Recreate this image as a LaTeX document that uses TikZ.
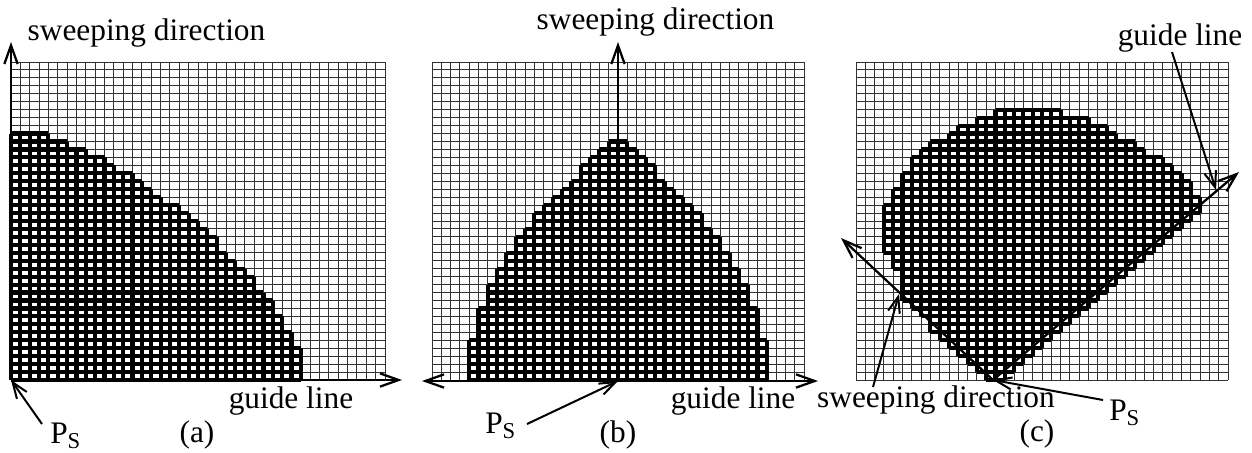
\documentclass[tikz,border=0pt]{standalone}
\usepackage{fontspec}
\setmainfont{Liberation Serif}
\usetikzlibrary{arrows.meta}
\tikzset{
  thingrid/.style={line width=0.7pt, black!80},
  cellgrid/.style={line width=3.1pt, black},
  axis/.style={line width=1.7pt, -{Straight Barb[length=14pt,width=10pt]}},
  axis2/.style={line width=1.7pt, {Straight Barb[length=14pt,width=10pt]}-{Straight Barb[length=14pt,width=10pt]}},
  ptr/.style={line width=1.5pt, -{Straight Barb[length=12pt,width=9pt]}},
  lbl/.style={font=\fontsize{23.5}{28}\selectfont, inner sep=0pt, anchor=base},
}
\newcommand\mySubPS{P\raisebox{-4pt}{\fontsize{17}{17}\selectfont S}}
\begin{document}
\begin{tikzpicture}[x=0.75pt,y=-0.75pt]
\useasboundingbox (0,0) rectangle (1252,453);
% ---------------- panel (a)
\begin{scope}[shift={(11,380)},x=7.0125pt,y=5.9625pt,step=1]
  \draw[thingrid] (0,0) grid (40,40);
  \foreach \i in {0,...,30}{
    \pgfmathtruncatemacro\hh{floor(31.5*(1-((\i+0.5)/31.5)^1.46)^(1/1.46)+0.5)}
    \ifnum\hh>0 \draw[cellgrid] (\i,0) grid (\i+1,\hh); \fi
  }
\end{scope}
\coordinate (a0) at (11,380);
\coordinate (aTop) at (11,42);
\coordinate (aRight) at (402,380);
\draw[axis] (a0) -- (aTop);
\draw[axis] (a0) -- (aRight);
\node[lbl] (sdA) at (146.5,41) {sweeping direction};
\node[lbl] (glA) at (291,408) {guide line};
\node[lbl] (capA) at (197,442) {(a)};
\node[lbl, anchor=base west] (psA) at (50,443) {\mySubPS};
\coordinate (psAtail) at (42,424);
\draw[ptr] (psAtail) -- (a0);
% ---------------- panel (b)
\begin{scope}[shift={(432,380)},x=6.975pt,y=5.9625pt,step=1]
  \draw[thingrid] (0,0) grid (40,40);
  \foreach \j in {0,...,29}{
    \pgfmathsetmacro\ww{16*(1-((\j+0.5)/30)^2)}
    \pgfmathtruncatemacro\lo{ceil(19.5-\ww)}
    \pgfmathtruncatemacro\hi{floor(19.5+\ww)}
    \draw[cellgrid] (\lo,\j) grid (\hi+1,\j+1);
  }
\end{scope}
\coordinate (b0) at (618,381);
\coordinate (bTop) at (618,42);
\coordinate (bLeft) at (422,381);
\coordinate (bRight) at (818,381);
\draw[axis2] (bLeft) -- (bRight);
\draw[axis] (b0) -- (bTop);
\node[lbl] (sdB) at (655.5,30) {sweeping direction};
\node[lbl] (glB) at (733,408) {guide line};
\node[lbl] (capB) at (618,442) {(b)};
\node[lbl, anchor=base west] (psB) at (485,433) {\mySubPS};
\coordinate (psBtail) at (527,424);
\draw[ptr] (psBtail) -- (b0);
% ---------------- panel (c)
\begin{scope}[shift={(856,380)},x=6.975pt,y=5.9625pt,step=1]
  \draw[thingrid] (0,0) grid (40,40);
  \foreach \j/\lo/\hi in {0/14/15,1/13/16,2/12/17,3/11/18,4/10/19,5/9/20,6/8/21,7/8/22,8/7/23,9/6/24,10/5/25,11/5/26,12/5/27,13/5/28,14/4/29,15/4/30,16/3/31,17/3/32,18/3/33,19/3/34,20/3/35,21/3/36,22/4/36,23/4/35,24/5/35,25/5/34,26/6/33,27/6/32,28/7/30,29/8/29,30/10/27,31/11/26,32/13/24,33/15/21}{
    \draw[cellgrid] (\lo,\j) grid (\hi+1,\j+1);
  }
\end{scope}
\coordinate (c0) at (993,380);
\coordinate (cGuide) at (1239,172);
\coordinate (cSweep) at (841,238);
\draw[axis] (c0) -- (cGuide);
\draw[axis] (c0) -- (cSweep);
\node[lbl] (glC) at (1180,46) {guide line};
\node[lbl] (sdC) at (936,407) {sweeping direction};
\node[lbl] (capC) at (1037,441) {(c)};
\node[lbl, anchor=base west] (psC) at (1109,420) {\mySubPS};
\coordinate (glCtail) at (1172,52);
\coordinate (glChead) at (1216,190);
\coordinate (sdCtail) at (873,387);
\coordinate (sdChead) at (899,294);
\coordinate (psCtail) at (1103,400);
\draw[ptr] (glCtail) -- (glChead);
\draw[ptr] (sdCtail) -- (sdChead);
\draw[ptr] (psCtail) -- (c0);
\end{tikzpicture}
\end{document}
